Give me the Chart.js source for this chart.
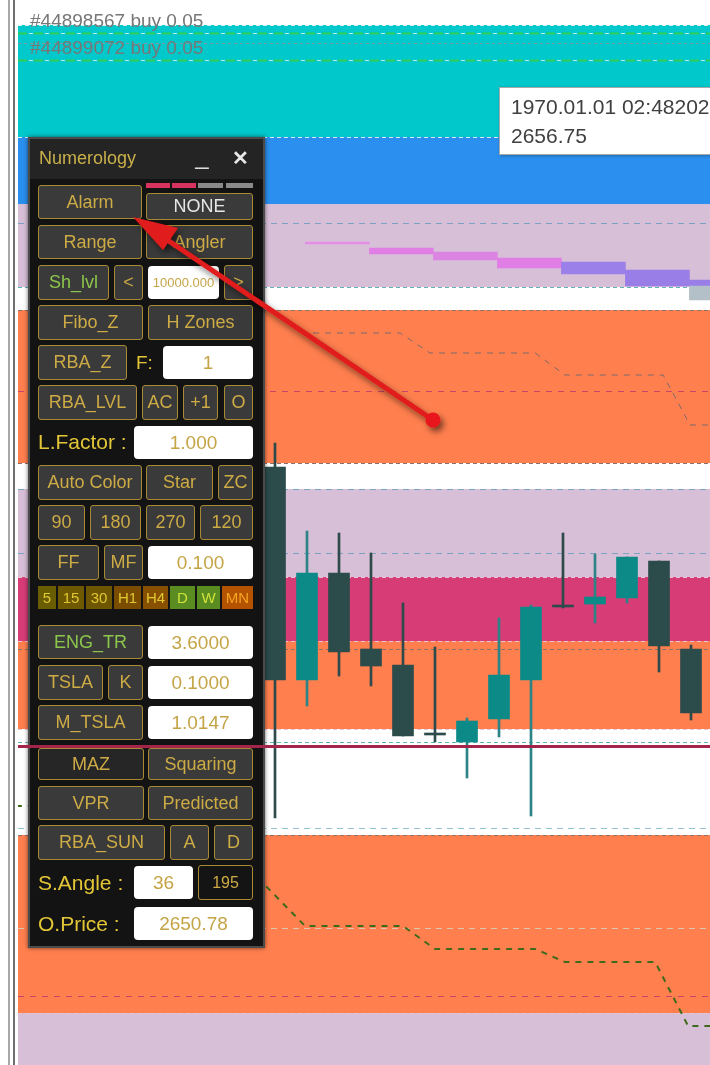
<!DOCTYPE html>
<html>
<head>
<meta charset="utf-8">
<script src="https://cdn.jsdelivr.net/npm/chart.js@4.4.1/dist/chart.umd.min.js"></script>
<style>
  html, body { margin: 0; padding: 0; background: #fff; }
  body { width: 710px; height: 1065px; position: relative; overflow: hidden; font-family: "Liberation Sans", Arial, sans-serif; }
  #chart { position: absolute; left: 18px; top: 0; }
  #overlay { position: absolute; left: 0; top: 0; z-index: 3; pointer-events: none; }
  .vline { position: absolute; top: 0; height: 1065px; }
  #panel { position: absolute; left: 28px; top: 137px; width: 237px; height: 811px; box-sizing: border-box;
           background: #131313; border: 2px solid #4b4b4b; z-index: 2; box-shadow: 0 0 4px rgba(0,0,0,.6); }
  #ptitle { position: absolute; left: 0; top: 0; right: 0; height: 40px; background: #242424; }
  .it { position: absolute; box-sizing: border-box; z-index: 2; display: flex; align-items: center; justify-content: center; white-space: nowrap; }
  .btn { background: #3a3a3a; border: 1.5px solid #a98a34; border-radius: 3px; color: #cdab45; font-size: 18px; }
  .dark { background: #262626; }
  .blk { background: #141414; }
  .grn { color: #8cc64a; }
  .wht { color: #e6e6e6; }
  .inp { background: #fff; border-radius: 4px; color: #c4a445; font-size: 19px; }
  .sm { font-size: 13px; }
  .lbl { color: #e3c636; font-size: 21px; justify-content: flex-start; }
  .tf { font-size: 15px; color: #e0c830; }
  #tip { position: absolute; left: 499px; top: 87px; width: 230px; height: 68px; box-sizing: border-box; background: #fff;
         border: 1px solid #a8a8a8; z-index: 5; color: #404040; font-size: 21px; line-height: 29px; padding: 4px 0 0 11px;
         box-shadow: 1px 1px 3px rgba(0,0,0,.25); white-space: nowrap; }
</style>
</head>
<body>
<div class="vline" style="left:8px;width:2px;background:#a8a8a8"></div>
<div class="vline" style="left:13px;width:2px;background:#707070"></div>
<canvas id="chart" width="692" height="1065"></canvas>
<div id="panel"><div id="ptitle"></div></div>
<canvas id="overlay" width="710" height="1065"></canvas>
<svg style="position:absolute;left:0;top:0;z-index:4" width="710" height="1065">
  <defs>
    <filter id="sh" x="-20%" y="-20%" width="140%" height="140%">
      <feDropShadow dx="3" dy="4" stdDeviation="3" flood-color="#000" flood-opacity="0.55"/>
    </filter>
  </defs>
  <g filter="url(#sh)">
    <line x1="433" y1="420" x2="160" y2="235" stroke="#e01a1a" stroke-width="5" stroke-linecap="round"/>
    <polygon points="133,217 163,250 178,228" fill="#e01a1a"/>
    <circle cx="433" cy="420" r="7.5" fill="#e8141a"/>
  </g>
</svg>
<div id="tip">1970.01.01 02:48202<br>2656.75</div>

<script>
// candles, left to right (index 0 = first candle right of the panel)
var candleIndex = [0, 1, 2, 3, 4, 5, 6, 7, 8, 9, 10, 11, 12, 13];
var openPrice  = [2656.36, 2652.10, 2654.24, 2652.72, 2652.40, 2651.00, 2650.86, 2651.32, 2652.10, 2653.56, 2653.62, 2653.74, 2654.48, 2652.72];
var highPrice  = [2656.84, 2655.08, 2655.04, 2654.64, 2653.64, 2652.76, 2651.34, 2653.34, 2653.60, 2655.04, 2654.62, 2654.56, 2654.48, 2652.80];
var lowPrice   = [2649.34, 2651.58, 2652.18, 2651.98, 2650.98, 2650.86, 2650.14, 2650.96, 2649.38, 2653.54, 2653.24, 2653.64, 2652.26, 2651.30];
var closePrice = [2652.10, 2654.24, 2652.66, 2652.38, 2650.98, 2651.00, 2651.28, 2652.20, 2653.56, 2653.56, 2653.76, 2654.56, 2652.78, 2651.44];

// zones (high, low, kind)
var zoneHigh = [2665.20, 2662.96, 2661.62, 2659.50, 2655.92, 2654.16, 2652.88, 2649.00, 2645.44];
var zoneLow  = [2662.96, 2661.62, 2659.96, 2656.44, 2654.16, 2652.88, 2651.12, 2645.44, 2643.00];
var zoneKind = ["cyan", "blue", "thistle", "coral", "thistle", "rose", "coral", "coral", "thistle"];

// dashed levels
var levelPrice = [2665.20, 2664.84, 2662.96, 2661.24, 2659.96, 2659.50, 2657.88, 2656.44, 2655.92, 2654.64, 2654.16, 2652.88, 2652.72, 2651.12, 2650.86, 2649.14, 2649.00, 2647.14, 2645.78, 2645.44];
var levelKind  = ["light", "grey", "light", "blue", "teal", "brown", "red", "brown", "blue", "blue", "pinkish", "pinkish", "brown", "pinkish", "teal", "lightblue", "brown", "sand", "red", "pinkish"];

// open orders
var orderTicket = ["#44898567", "#44899072"];
var orderType   = ["buy", "buy"];
var orderLots   = [0.05, 0.05];
var orderPrice  = [2665.04, 2664.50];

var oPrice = 2650.78;

// stepped projection lines
var upperStepX = [1.19, 3.91, 4.84, 8.13, 9.06, 12.13, 12.97, 13.7];
var upperStepY = [2659.04, 2659.04, 2658.64, 2658.64, 2658.20, 2658.20, 2657.20, 2657.20];
var lowerStepX = [-8.1, -1.0, -0.47, 0.94, 4.0, 5.0, 8.13, 9.06, 11.88, 12.91, 13.7];
var lowerStepY = [2649.58, 2649.58, 2648.10, 2647.18, 2647.18, 2646.72, 2646.72, 2646.46, 2646.46, 2645.18, 2645.18];

// histogram blocks
var histX    = [1.95, 3.95, 5.95, 7.95, 9.95, 11.95, 13.95, 13.95];
var histLow  = [2660.82, 2660.62, 2660.50, 2660.34, 2660.22, 2659.98, 2659.98, 2659.70];
var histHigh = [2660.86, 2660.74, 2660.66, 2660.54, 2660.46, 2660.30, 2660.10, 2659.98];

var zoneColors = { cyan: "#00c8cb", blue: "#2a8fee", thistle: "#d8bfd8", coral: "#ff7f4e", rose: "#d73c77" };
var levelStyles = {
  light: ["#d4eef4", [4, 3]], grey: ["#7e9aa0", [3, 3]], blue: ["#7ca2c2", [6, 5]], teal: ["#5fb4b8", [4, 3]],
  brown: ["#8d7268", [4, 3]], red: ["#c8466a", [6, 6]], pinkish: ["#e9c4d2", [4, 3]], lightblue: ["#94c4d2", [6, 5]],
  sand: ["#dcc6ae", [6, 5]]
};
var histColors = ["#e48ee8", "#e07ee6", "#dc84e2", "#e07ee6", "#9a80e8", "#9a7ee8", "#9a7ee8", "#b4c0c8"];
var bullColor = "#0b8a88", bearColor = "#2c4b4b";
var bullWick = "#2c8486", bearWick = "#2e4a4a";

var bodyColors = candleIndex.map(function (i) { return closePrice[i] > openPrice[i] ? bullColor : bearColor; });
var wickColors = candleIndex.map(function (i) { return closePrice[i] > openPrice[i] ? bullWick : bearWick; });

var zonesPlugin = {
  id: "zones",
  beforeDatasetsDraw: function (chart) {
    var ctx = chart.ctx, a = chart.chartArea, y = chart.scales.y;
    ctx.save();
    for (var i = 0; i < zoneHigh.length; i++) {
      var t = y.getPixelForValue(zoneHigh[i]), b = y.getPixelForValue(zoneLow[i]);
      ctx.fillStyle = zoneColors[zoneKind[i]];
      ctx.fillRect(a.left, t, a.right - a.left, b - t);
    }
    ctx.lineWidth = 1;
    for (var j = 0; j < levelPrice.length; j++) {
      var st = levelStyles[levelKind[j]];
      var py = Math.round(y.getPixelForValue(levelPrice[j])) + 0.5;
      ctx.strokeStyle = st[0];
      ctx.setLineDash(st[1]);
      ctx.beginPath(); ctx.moveTo(a.left, py); ctx.lineTo(a.right, py); ctx.stroke();
    }
    // order lines
    for (var k = 0; k < orderPrice.length; k++) {
      var oy = Math.round(y.getPixelForValue(orderPrice[k])) + 0.5;
      ctx.lineWidth = 2;
      ctx.strokeStyle = "#2ecf52";
      ctx.setLineDash([9, 7]);
      ctx.beginPath(); ctx.moveTo(a.left, oy); ctx.lineTo(a.right, oy); ctx.stroke();
      ctx.strokeStyle = "#b8ecec";
      ctx.lineWidth = 1;
      ctx.setLineDash([4, 12]);
      ctx.lineDashOffset = -11;
      ctx.beginPath(); ctx.moveTo(a.left, oy); ctx.lineTo(a.right, oy); ctx.stroke();
      ctx.lineDashOffset = 0;
    }
    ctx.setLineDash([]);
    ctx.fillStyle = "#777777";
    ctx.font = '19px "Liberation Sans", Arial, sans-serif';
    ctx.textBaseline = "alphabetic";
    for (var m = 0; m < orderPrice.length; m++) {
      var ty = y.getPixelForValue(orderPrice[m]) - 6;
      ctx.fillText(orderTicket[m] + " " + orderType[m] + " " + orderLots[m].toFixed(2), 12, ty);
    }
    ctx.restore();
  },
  afterDraw: function (chart) {
    var ov = document.getElementById("overlay").getContext("2d");
    var py = chart.scales.y.getPixelForValue(oPrice);
    ov.clearRect(0, 0, 710, 1065);
    ov.fillStyle = "#a3264a";
    ov.fillRect(18, Math.round(py) - 1, 692, 3);
  }
};

var ctx = document.getElementById("chart");
new Chart(ctx, {
  type: "bar",
  data: {
    datasets: [
      {
        label: "body",
        data: candleIndex.map(function (i) { return { x: i, y: [openPrice[i], closePrice[i]] }; }),
        backgroundColor: bodyColors,
        barThickness: 21,
        minBarLength: 2,
        grouped: false,
        order: 0
      },
      {
        label: "wick",
        data: candleIndex.map(function (i) { return { x: i, y: [lowPrice[i], highPrice[i]] }; }),
        backgroundColor: wickColors,
        barThickness: 2,
        grouped: false,
        order: 1
      },
      {
        label: "hist",
        data: histX.map(function (x, i) { return { x: x, y: [histLow[i], histHigh[i]] }; }),
        backgroundColor: histColors,
        barThickness: 64,
        grouped: false,
        order: 2
      },
      {
        type: "line",
        label: "upper step",
        data: upperStepX.map(function (x, i) { return { x: x, y: upperStepY[i] }; }),
        borderColor: "#7b6a6c",
        borderWidth: 1,
        borderDash: [6, 6],
        pointRadius: 0,
        fill: false,
        order: 3
      },
      {
        type: "line",
        label: "lower step",
        data: lowerStepX.map(function (x, i) { return { x: x, y: lowerStepY[i] }; }),
        borderColor: "#3f6a1c",
        borderWidth: 2,
        borderDash: [6, 6],
        pointRadius: 0,
        fill: false,
        order: 3
      }
    ]
  },
  options: {
    responsive: false,
    animation: false,
    events: [],
    layout: { padding: 0 },
    plugins: { legend: { display: false }, tooltip: { enabled: false } },
    scales: {
      x: { type: "linear", min: -8.03125, max: 13.59375, offset: false, display: false },
      y: { type: "linear", min: 2644.40, max: 2665.70, beginAtZero: false, display: false }
    }
  },
  plugins: [zonesPlugin]
});

// panel controls: [class, text, left, top, width, height]
var panelItems = [
  ["lbl title", "Numerology", 39, 147, 110, 22],
  ["it wht mini", "_", 190, 142, 24, 24],
  ["it wht x", "\u2715", 228, 146, 24, 24],
  ["strip", "", 146, 183, 24, 5], ["strip", "", 172, 183, 24, 5], ["strip g", "", 198, 183, 25, 5], ["strip g", "", 226, 183, 27, 5],
  ["btn", "Alarm", 38, 185, 104, 34], ["btn wht", "NONE", 146, 193, 107, 27],
  ["btn", "Range", 38, 225, 104, 34], ["btn", "Angler", 146, 225, 107, 34],
  ["btn grn", "Sh_lvl", 38, 265, 71, 35], ["btn", "<", 114, 265, 29, 35], ["inp sm", "10000.000", 148, 266, 71, 33], ["btn", ">", 224, 265, 29, 35],
  ["btn", "Fibo_Z", 38, 305, 105, 35], ["btn", "H Zones", 148, 305, 105, 35],
  ["btn", "RBA_Z", 38, 345, 89, 35], ["lbl f", "F:", 136, 345, 26, 35], ["inp", "1", 163, 346, 90, 33],
  ["btn", "RBA_LVL", 38, 385, 99, 35], ["btn", "AC", 142, 385, 36, 35], ["btn", "+1", 183, 385, 35, 35], ["btn", "O", 224, 385, 29, 35],
  ["lbl", "L.Factor :", 38, 425, 96, 34], ["inp", "1.000", 134, 426, 119, 33],
  ["btn", "Auto Color", 38, 465, 104, 35], ["btn", "Star", 146, 465, 67, 35], ["btn", "ZC", 218, 465, 35, 35],
  ["btn", "90", 38, 505, 47, 35], ["btn", "180", 90, 505, 51, 35], ["btn", "270", 146, 505, 49, 35], ["btn", "120", 200, 505, 53, 35],
  ["btn", "FF", 38, 545, 61, 35], ["btn", "MF", 104, 545, 39, 35], ["inp", "0.100", 148, 546, 105, 33],
  ["tf", "5", 38, 586, 18, 23, "#6a5c00"], ["tf", "15", 58, 586, 26, 23, "#6e5800"], ["tf", "30", 86, 586, 26, 23, "#6e5600"],
  ["tf", "H1", 114, 586, 27, 23, "#7a4c00"], ["tf", "H4", 143, 586, 25, 23, "#865000"], ["tf d", "D", 170, 586, 25, 23, "#5b8c22"],
  ["tf d", "W", 197, 586, 23, 23, "#5b8c22"], ["tf mn", "MN", 222, 586, 31, 23, "#b45200"],
  ["btn grn", "ENG_TR", 38, 625, 105, 34], ["inp", "3.6000", 148, 626, 105, 33],
  ["btn", "TSLA", 38, 665, 65, 35], ["btn", "K", 108, 665, 35, 35], ["inp", "0.1000", 148, 666, 105, 33],
  ["btn", "M_TSLA", 38, 705, 105, 35], ["inp", "1.0147", 148, 706, 105, 33],
  ["btn dark", "MAZ", 38, 748, 106, 32], ["btn", "Squaring", 148, 748, 105, 32],
  ["btn", "VPR", 38, 786, 106, 34], ["btn", "Predicted", 148, 786, 105, 34],
  ["btn", "RBA_SUN", 38, 825, 127, 35], ["btn", "A", 170, 825, 39, 35], ["btn", "D", 214, 825, 39, 35],
  ["lbl", "S.Angle :", 38, 865, 96, 35], ["inp", "36", 134, 866, 59, 33], ["btn blk", "195", 198, 865, 55, 35],
  ["lbl", "O.Price :", 38, 906, 96, 35], ["inp", "2650.78", 134, 907, 119, 33]
];

panelItems.forEach(function (p) {
  var d = document.createElement("div");
  d.className = "it " + p[0];
  d.textContent = p[1];
  d.style.left = p[2] + "px"; d.style.top = p[3] + "px";
  d.style.width = p[4] + "px"; d.style.height = p[5] + "px";
  if (p[6]) d.style.background = p[6];
  if (p[0].indexOf("strip") === 0) d.style.background = p[0] === "strip g" ? "#8a8a8a" : "#d8325e";
  if (p[0] === "tf d") d.style.color = "#cfe23a";
  if (p[0] === "tf mn") d.style.color = "#f5a420";
  if (p[0] === "lbl title") { d.style.fontSize = "18px"; d.style.color = "#c9b04a"; }
  if (p[0] === "lbl f") d.style.fontSize = "19px";
  if (p[0] === "btn blk") d.style.fontSize = "16px";
  if (p[0] === "it wht mini") { d.style.fontSize = "24px"; d.style.color = "#dcdcdc"; d.style.alignItems = "flex-start"; }
  if (p[0] === "it wht x") { d.style.fontSize = "20px"; d.style.color = "#e8e8e8"; d.style.fontWeight = "bold"; }
  document.body.appendChild(d);
});
</script>
</body>
</html>
